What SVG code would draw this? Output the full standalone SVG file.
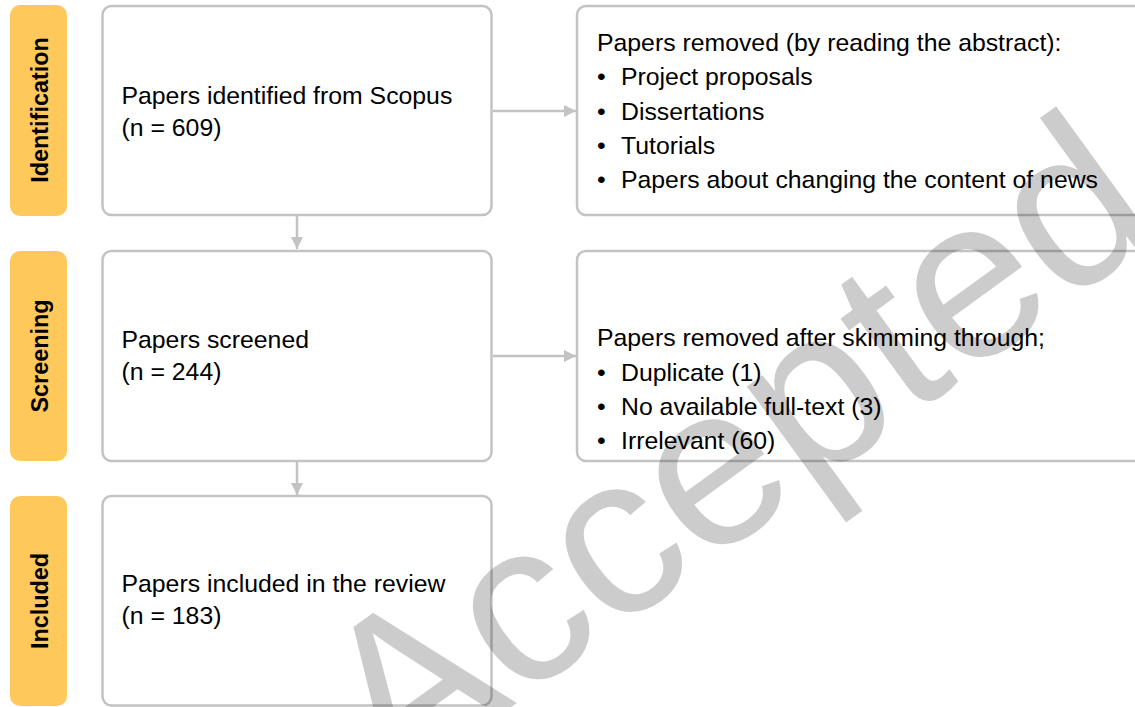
<svg xmlns="http://www.w3.org/2000/svg" width="1135" height="707" viewBox="0 0 1135 707">
<style>
.lab{fill:#FFC85A}
.lt{font-family:"Liberation Sans",Arial,sans-serif;font-weight:bold;font-size:23.4px;fill:#000;text-anchor:middle}
.box{fill:#fff;stroke:#c3c3c3;stroke-width:2.5}
.t{font-family:"Liberation Sans",Arial,sans-serif;font-size:24.8px;fill:#000}
.con{stroke:#c3c3c3;stroke-width:2.5;fill:none}
.wm{font-family:"Liberation Sans",Arial,sans-serif;font-size:229px;fill:#000;fill-opacity:0.2;text-anchor:middle}
</style>
<defs>
<marker id="ah" viewBox="0 0 12 12" refX="12" refY="6" markerWidth="12" markerHeight="12" markerUnits="userSpaceOnUse" orient="auto">
<path d="M0,0 L12,6 L0,12 Z" fill="#c3c3c3"/>
</marker>
</defs>
<g id="label-identification">
<rect class="lab" x="10" y="5" width="57" height="211" rx="10"/>
<text class="lt" transform="translate(48,110) rotate(-90)">Identification</text>
</g>
<g id="label-screening">
<rect class="lab" x="10" y="251" width="57" height="210" rx="10"/>
<text class="lt" transform="translate(48,356) rotate(-90)">Screening</text>
</g>
<g id="label-included">
<rect class="lab" x="10" y="496" width="57" height="210" rx="10"/>
<text class="lt" transform="translate(48,601) rotate(-90)">Included</text>
</g>
<g id="connectors">
<line class="con" x1="297" y1="216" x2="297" y2="249" marker-end="url(#ah)"/>
<line class="con" x1="297" y1="462" x2="297" y2="495" marker-end="url(#ah)"/>
<line class="con" x1="493" y1="111" x2="576" y2="111" marker-end="url(#ah)"/>
<line class="con" x1="493" y1="356" x2="576" y2="356" marker-end="url(#ah)"/>
</g>
<g id="box-identified">
<rect class="box" x="102.5" y="6" width="389" height="209" rx="9"/>
<text class="t" x="121.5" y="104">Papers identified from Scopus</text>
<text class="t" x="121.5" y="136">(n = 609)</text>
</g>
<g id="box-screened">
<rect class="box" x="102.5" y="251" width="389" height="210" rx="9"/>
<text class="t" x="121.5" y="348">Papers screened</text>
<text class="t" x="121.5" y="380">(n = 244)</text>
</g>
<g id="box-included">
<rect class="box" x="102.5" y="496" width="389" height="209.5" rx="9"/>
<text class="t" x="121.5" y="592">Papers included in the review</text>
<text class="t" x="121.5" y="624">(n = 183)</text>
</g>
<g id="box-removed-abstract">
<rect class="box" x="577" y="6" width="580" height="209" rx="9"/>
<text class="t" x="597" y="51">Papers removed (by reading the abstract):</text>
<text class="t" x="597" y="85">•</text><text class="t" x="621" y="85">Project proposals</text>
<text class="t" x="597" y="119.5">•</text><text class="t" x="621" y="119.5">Dissertations</text>
<text class="t" x="597" y="154">•</text><text class="t" x="621" y="154">Tutorials</text>
<text class="t" x="597" y="188">•</text><text class="t" x="621" y="188">Papers about changing the content of news</text>
</g>
<g id="box-removed-skimming">
<rect class="box" x="577" y="251" width="580" height="210" rx="9"/>
<text class="t" x="597" y="346">Papers removed after skimming through;</text>
<text class="t" x="597" y="380.5">•</text><text class="t" x="621" y="380.5">Duplicate (1)</text>
<text class="t" x="597" y="415">•</text><text class="t" x="621" y="415">No available full-text (3)</text>
<text class="t" x="597" y="449">•</text><text class="t" x="621" y="449">Irrelevant (60)</text>
</g>
<text class="wm" x="780" y="512" transform="rotate(-36 780 512)">Accepted</text>
</svg>
